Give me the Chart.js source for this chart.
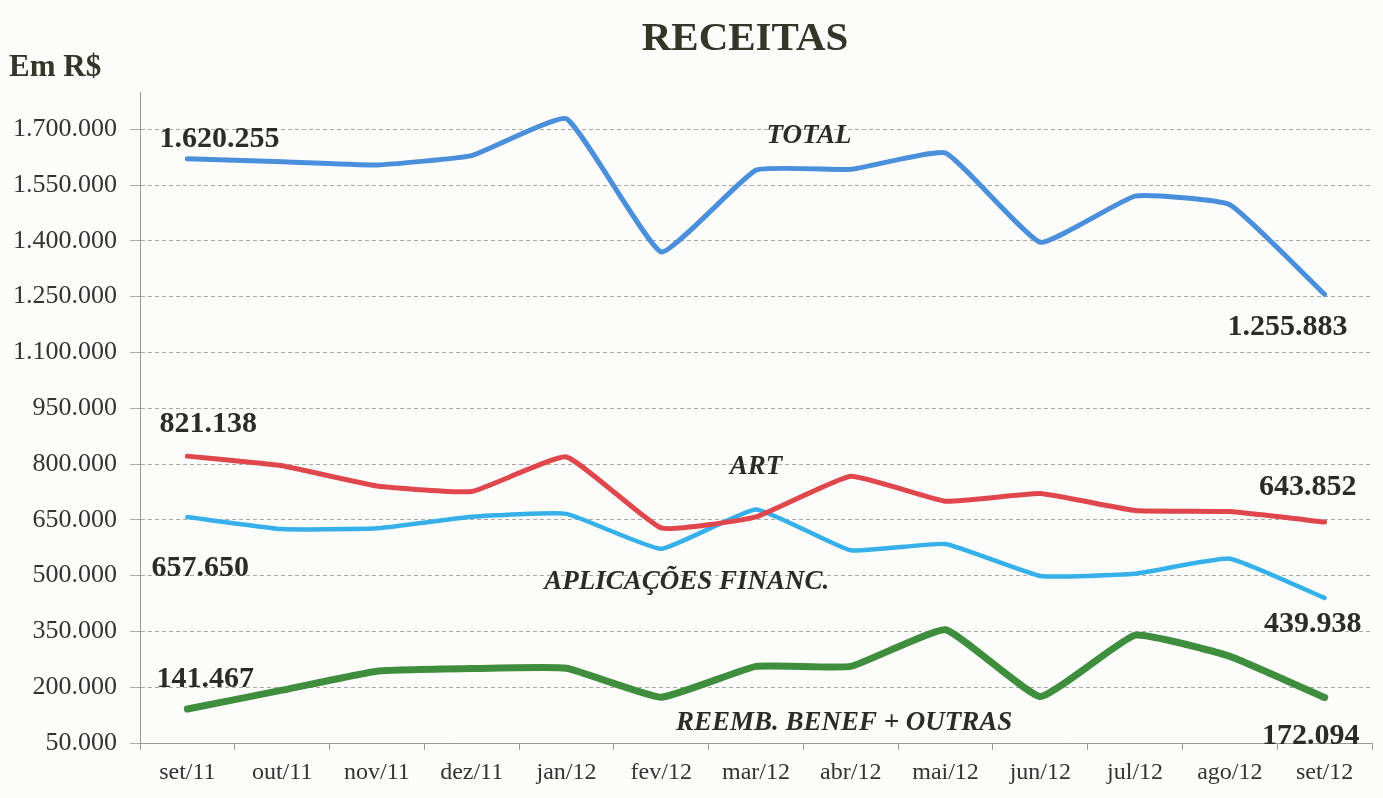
<!DOCTYPE html>
<html>
<head>
<meta charset="utf-8">
<title>Receitas</title>
<script src="https://cdn.jsdelivr.net/npm/chart.js@4.4.1/dist/chart.umd.min.js"></script>
<style>
    html, body { margin: 0; padding: 0; background: #fcfcfa; }
    #receitasChart { display: block; }
</style>
</head>
<body>
<canvas id="receitasChart" width="1383" height="798"></canvas>
<script>
    const meses = ["set/11", "out/11", "nov/11", "dez/11", "jan/12", "fev/12", "mar/12",
                   "abr/12", "mai/12", "jun/12", "jul/12", "ago/12", "set/12"];

    const total   = [1620255, 1612500, 1604000, 1629000, 1728000, 1370000, 1590000,
                     1592000, 1636000, 1396000, 1520000, 1497000, 1255883];
    const art     = [821138, 795500, 741000, 726000, 819000, 628000, 658000,
                     767000, 700000, 720500, 675000, 672000, 643852];
    const aplic   = [657650, 625000, 627000, 658000, 666000, 572000, 678000,
                     568000, 585000, 499000, 505000, 545500, 439938];
    const reemb   = [141467, 192000, 243000, 250000, 251000, 173000, 256000,
                     256000, 354500, 175000, 340000, 283000, 172094];

    const yTicks = [50000, 200000, 350000, 500000, 650000, 800000, 950000,
                    1100000, 1250000, 1400000, 1550000, 1700000];

    const serif = "'Liberation Serif', 'Times New Roman', serif";

    function fmt(v) {
        return String(Math.round(v)).replace(/\B(?=(\d{3})+(?!\d))/g, ".");
    }

    // first / last value labels, offsets relative to the point
    const valueLabels = [
        { ds: 0, first: [-28, -20], last: [23, 33] },
        { ds: 1, first: [-28, -32], last: [32, -35] },
        { ds: 2, first: [-36, 51], last: [37, 26] },
        { ds: 3, first: [-31, -30], last: [35, 39] }
    ];

    // series names, placed in data coordinates
    const seriesNames = [
        { text: "TOTAL", idx: 6.56, val: 1681000 },
        { text: "ART", idx: 6.0, val: 792000 },
        { text: "APLICAÇÕES FINANC.", idx: 5.27, val: 484000 },
        { text: "REEMB. BENEF + OUTRAS", idx: 6.93, val: 103500 }
    ];

    const textPlugin = {
        id: "receitasText",
        afterDraw(chart) {
            const ctx = chart.ctx;
            const xs = chart.scales.x, ys = chart.scales.y;
            ctx.save();
            ctx.fillStyle = "#2b2b28";
            ctx.textBaseline = "middle";

            ctx.fillStyle = "#35352a";
            ctx.font = "bold 41px " + serif;
            ctx.textAlign = "center";
            ctx.fillText("RECEITAS", 745, 39);

            ctx.font = "bold 31px " + serif;
            ctx.textAlign = "left";
            ctx.fillText("Em R$", 9, 68);

            ctx.fillStyle = "#2b2b28";
            ctx.font = "bold 30px " + serif;
            valueLabels.forEach(function (l) {
                const pts = chart.getDatasetMeta(l.ds).data;
                const ds = chart.data.datasets[l.ds].data;
                const a = pts[0], b = pts[pts.length - 1];
                ctx.textAlign = "left";
                ctx.fillText(fmt(ds[0]), a.x + l.first[0], a.y + l.first[1]);
                ctx.textAlign = "right";
                ctx.fillText(fmt(ds[ds.length - 1]), b.x + l.last[0], b.y + l.last[1]);
            });

            ctx.font = "italic bold 27px " + serif;
            ctx.textAlign = "center";
            seriesNames.forEach(function (s) {
                ctx.fillText(s.text, xs.getPixelForValue(s.idx), ys.getPixelForValue(s.val));
            });
            ctx.restore();
        }
    };

    function line(label, data, color, width) {
        return {
            label: label,
            data: data,
            borderColor: color,
            backgroundColor: color,
            borderWidth: width,
            pointRadius: 0,
            tension: 0.12,
            borderJoinStyle: "round",
            borderCapStyle: "round",
            fill: false
        };
    }

    new Chart(document.getElementById("receitasChart"), {
        type: "line",
        data: {
            labels: meses,
            datasets: [
                line("TOTAL", total, "#4a8fdc", 5),
                line("ART", art, "#e0474d", 5),
                line("APLICAÇÕES FINANC.", aplic, "#35b0ea", 4.5),
                line("REEMB. BENEF + OUTRAS", reemb, "#3e8e3e", 7)
            ]
        },
        options: {
            responsive: false,
            animation: false,
            layout: { padding: { top: 92, right: 11, left: 0, bottom: 0 } },
            plugins: {
                legend: { display: false },
                title: { display: false },
                tooltip: { enabled: false }
            },
            scales: {
                x: {
                    offset: true,
                    afterFit: function (s) { s.height = 55; },
                    grid: {
                        offset: true,
                        drawOnChartArea: false,
                        tickLength: 7,
                        color: "#999"
                    },
                    border: { color: "#999", width: 1 },
                    ticks: {
                        color: "#333",
                        padding: 8,
                        maxRotation: 0,
                        font: { family: serif, size: 24 }
                    }
                },
                y: {
                    min: 50000,
                    max: 1800000,
                    afterFit: function (s) { s.width = 140; },
                    afterBuildTicks: function (s) {
                        s.ticks = yTicks.map(function (v) { return { value: v }; });
                    },
                    grid: {
                        color: "#a8a8a8",
                        lineWidth: 1,
                        tickLength: 10
                    },
                    border: { color: "#999", width: 1, dash: [4, 3] },
                    ticks: {
                        color: "#333",
                        padding: 13,
                        font: { family: serif, size: 26 },
                        callback: function (v) { return fmt(v); }
                    }
                }
            }
        },
        plugins: [textPlugin]
    });
</script>
</body>
</html>
